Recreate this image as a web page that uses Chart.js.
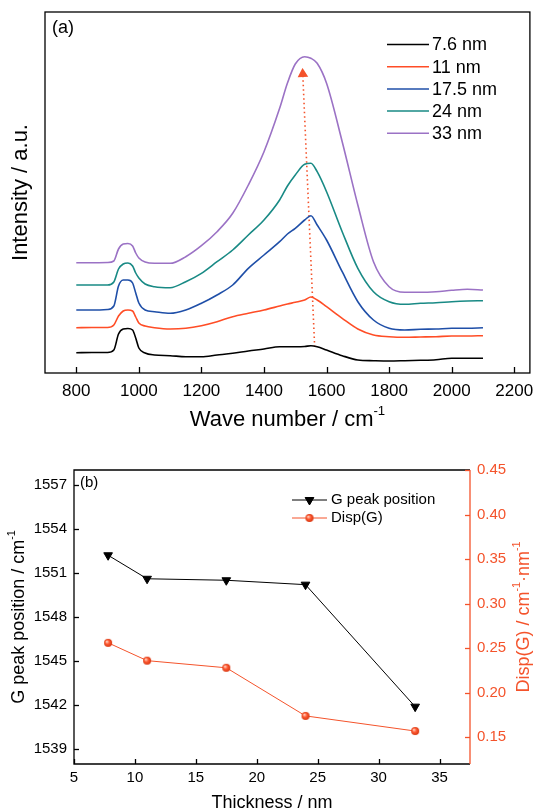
<!DOCTYPE html>
<html>
<head>
<meta charset="utf-8">
<script src="https://cdn.jsdelivr.net/npm/chart.js@4.4.0/dist/chart.umd.min.js"></script>
<style>
html, body { margin: 0; padding: 0; background: #fff; }
#wrap { position: relative; width: 536px; height: 811px; }
#spectra { position: absolute; left: 0; top: 0; }
#gpeak { position: absolute; left: 0; top: 440px; }
</style>
</head>
<body>
<div id="wrap">
  <canvas id="spectra" width="536" height="440"></canvas>
  <canvas id="gpeak" width="536" height="371"></canvas>
</div>
<script>
const FONT = '"Liberation Sans", Arial, sans-serif';
Chart.defaults.font.family = FONT;
Chart.defaults.color = '#000';

// ---- (a) Raman spectra, intensity in arbitrary units ----
const waveNumbers = [800, 850, 900, 920, 935, 950, 965, 980, 990, 1000, 1020, 1050, 1100, 1150, 1200, 1250, 1300, 1350, 1400, 1450, 1475, 1500, 1530, 1550, 1570, 1600, 1650, 1700, 1750, 1800, 1850, 1900, 1950, 2000, 2050, 2100];
const int76  = [20.3, 20.5, 20.5, 23, 39, 44, 44.5, 43, 35, 25, 20, 18, 17.3, 16.3, 16.3, 18, 19.7, 22, 24, 26.3, 26.3, 26.3, 26.5, 27.3, 26.3, 23, 17.3, 13, 12.3, 12, 12.3, 12.7, 13.3, 14.7, 14.7, 14.7];
const int11  = [45.3, 45.5, 45.5, 48, 57, 62, 63, 62, 56, 50, 47, 45.3, 44, 44.7, 47.3, 51.3, 56.3, 59.7, 63, 67, 69, 70.7, 73, 76, 73, 66.3, 54.7, 44, 38, 36.3, 35.7, 36, 36.3, 37, 37, 37.3];
const int175 = [63, 63, 63.5, 67, 87, 93, 93, 90, 80, 70, 63, 61.3, 59.7, 63, 69.7, 78, 88, 104.7, 118, 131.3, 139, 144.7, 153, 157.3, 148, 133, 101.3, 71.3, 53, 44.7, 43, 43.7, 44, 44.7, 44.7, 45.3];
const int24  = [88, 88, 88, 91, 104, 109, 110, 107, 100, 95, 89, 86.3, 85.3, 91.3, 99.7, 111.3, 123, 138, 153, 173, 187, 198, 208.7, 209.7, 201.3, 181.3, 141.3, 104.7, 81.3, 71.3, 68.7, 69.7, 70.3, 71.3, 72, 72.3];
const int33  = [110.3, 110.3, 110.5, 112, 124, 129, 129.5, 127, 120, 115, 111, 109.7, 109.7, 116.3, 127.3, 141.3, 159.7, 188, 221.3, 264.7, 290, 309, 316.3, 314.7, 309.7, 289.7, 231.3, 168, 111.3, 86.3, 80.7, 80.7, 81.3, 82.7, 83.7, 83];
const spectraLabels = ['7.6 nm', '11 nm', '17.5 nm', '24 nm', '33 nm'];
const spectraColors = ['#000000', '#ff4d26', '#1f4fa8', '#198a85', '#9b72c5'];
const waveTicks = [800, 1000, 1200, 1400, 1600, 1800, 2000, 2200];
const arrowX = [1562, 1524];
const arrowY = [26, 299];

// ---- (b) G peak position and dispersion vs thickness ----
const thickness = [7.8, 11, 17.5, 24, 33];
const gPeak = [1552.2, 1550.6, 1550.5, 1550.2, 1541.9];
const dispG = [0.256, 0.236, 0.228, 0.174, 0.157];
const thickTicks = [5, 10, 15, 20, 25, 30, 35];
const peakTicks = [1539, 1542, 1545, 1548, 1551, 1554, 1557];
const dispTicks = [0.15, 0.20, 0.25, 0.30, 0.35, 0.40, 0.45];

const ORANGE = '#f4532b';

function toPoints(xs, ys) {
  return xs.map((x, i) => ({ x: x, y: ys[i] }));
}

function richText(ctx, parts, x, y, size, rotate, color) {
  ctx.save();
  ctx.translate(x, y);
  if (rotate) ctx.rotate(-Math.PI / 2);
  ctx.fillStyle = color;
  ctx.textBaseline = 'alphabetic';
  ctx.textAlign = 'left';
  let w = 0;
  parts.forEach(p => {
    ctx.font = (p.sup ? size * 0.6 : size) + 'px ' + FONT;
    w += ctx.measureText(p.t).width;
  });
  let cx = -w / 2;
  parts.forEach(p => {
    ctx.font = (p.sup ? size * 0.6 : size) + 'px ' + FONT;
    ctx.fillText(p.t, cx, p.sup ? -size * 0.5 : 0);
    cx += ctx.measureText(p.t).width;
  });
  ctx.restore();
}

function tickLine(ctx, x1, y1, x2, y2) {
  ctx.beginPath();
  ctx.moveTo(x1, y1);
  ctx.lineTo(x2, y2);
  ctx.stroke();
}

const spectraDecor = {
  id: 'spectraDecor',
  afterDraw(chart) {
    const { ctx, chartArea: a, scales: { x } } = chart;
    ctx.save();
    ctx.strokeStyle = '#000';
    ctx.lineWidth = 1.3;
    ctx.strokeRect(a.left, a.top, a.right - a.left, a.bottom - a.top);
    waveTicks.forEach(v => {
      const px = Math.round(x.getPixelForValue(v)) + 0.5;
      tickLine(ctx, px, a.bottom, px, a.bottom - 6);
    });

    ctx.font = '18px ' + FONT;
    ctx.fillStyle = '#000';
    ctx.textBaseline = 'middle';
    ctx.fillText('(a)', 52, 28);

    // legend
    spectraLabels.forEach((lab, i) => {
      const y = 44.5 + i * 22.2;
      ctx.strokeStyle = spectraColors[i];
      ctx.lineWidth = 1.5;
      tickLine(ctx, 387, y, 429, y);
      ctx.font = '18px ' + FONT;
      ctx.fillStyle = '#000';
      ctx.fillText(lab, 432, y + 1);
    });

    richText(ctx, [{ t: 'Wave number / cm' }, { t: '-1', sup: true }], (a.left + a.right) / 2, 426, 22, false, '#000');
    richText(ctx, [{ t: 'Intensity / a.u.' }], 27, (a.top + a.bottom) / 2, 22, true, '#000');
    ctx.restore();
  }
};

const spectraSets = [int76, int11, int175, int24, int33].map((arr, i) => ({
  label: spectraLabels[i],
  data: toPoints(waveNumbers, arr),
  borderColor: spectraColors[i],
  borderWidth: 1.6,
  pointRadius: 0,
  cubicInterpolationMode: 'monotone',
  fill: false
}));
spectraSets.push({
  label: 'shift',
  data: toPoints(arrowX, arrowY),
  borderColor: ORANGE,
  backgroundColor: ORANGE,
  borderWidth: 1.6,
  borderDash: [1.5, 3],
  pointRadius: [0, 4.5],
  pointStyle: 'triangle',
  rotation: -3,
  tension: 0
});

new Chart(document.getElementById('spectra'), {
  type: 'line',
  data: { datasets: spectraSets },
  options: {
    responsive: false,
    animation: false,
    layout: { padding: { top: 12, right: 6, left: 0, bottom: 0 } },
    plugins: { legend: { display: false }, tooltip: { enabled: false } },
    scales: {
      x: {
        type: 'linear', min: 700, max: 2250,
        afterBuildTicks: s => { s.ticks = waveTicks.map(v => ({ value: v })); },
        afterFit: s => { s.height = 67; s.paddingLeft = 0; s.paddingRight = 0; },
        grid: { display: false, drawTicks: false },
        border: { display: false },
        ticks: { font: { size: 17 }, color: '#000', padding: 8, maxRotation: 0, autoSkip: false, callback: v => String(v) }
      },
      y: {
        min: 0, max: 361,
        afterFit: s => { s.width = 45; },
        grid: { display: false, drawTicks: false },
        border: { display: false },
        ticks: { display: false }
      }
    }
  },
  plugins: [spectraDecor]
});

// sphere marker for Disp(G)
function makeBall(r) {
  const c = document.createElement('canvas');
  c.width = c.height = 2 * r + 2;
  const g = c.getContext('2d');
  const grad = g.createRadialGradient(r + 1 - r * 0.35, r + 1 - r * 0.35, r * 0.1, r + 1, r + 1, r);
  grad.addColorStop(0, '#ffd0bf');
  grad.addColorStop(0.45, '#ff5a33');
  grad.addColorStop(1, '#d8360f');
  g.fillStyle = grad;
  g.beginPath();
  g.arc(r + 1, r + 1, r, 0, Math.PI * 2);
  g.fill();
  return c;
}
const ball = makeBall(4);

const gpeakDecor = {
  id: 'gpeakDecor',
  afterDraw(chart) {
    const { ctx, chartArea: a, scales: { x, y, y1 } } = chart;
    ctx.save();
    ctx.lineWidth = 1.3;
    ctx.strokeStyle = '#000';
    ctx.beginPath();
    ctx.moveTo(a.right, a.top);
    ctx.lineTo(a.left, a.top);
    ctx.lineTo(a.left, a.bottom);
    ctx.lineTo(a.right, a.bottom);
    ctx.stroke();
    thickTicks.forEach(v => {
      const px = Math.round(x.getPixelForValue(v)) + 0.5;
      tickLine(ctx, px, a.bottom, px, a.bottom - 5);
    });
    peakTicks.forEach(v => {
      const py = Math.round(y.getPixelForValue(v)) + 0.5;
      tickLine(ctx, a.left, py, a.left + 5, py);
    });
    ctx.strokeStyle = ORANGE;
    tickLine(ctx, a.right, a.top, a.right, a.bottom);
    dispTicks.forEach(v => {
      const py = Math.round(y1.getPixelForValue(v)) + 0.5;
      tickLine(ctx, a.right, py, a.right - 5, py);
    });

    ctx.fillStyle = '#000';
    ctx.font = '15px ' + FONT;
    ctx.textBaseline = 'middle';
    ctx.fillText('(b)', 80, 42.5);

    // legend
    ctx.lineWidth = 1;
    ctx.strokeStyle = '#000';
    tickLine(ctx, 292, 60, 327, 60);
    Chart.helpers.drawPoint(ctx, { pointStyle: 'triangle', rotation: 180, radius: 5, borderWidth: 1 }, 309.5, 60);
    ctx.fill();
    ctx.strokeStyle = ORANGE;
    tickLine(ctx, 292, 78, 327, 78);
    ctx.drawImage(ball, 309.5 - ball.width / 2, 78 - ball.height / 2);
    ctx.fillStyle = '#000';
    ctx.fillText('G peak position', 331, 60);
    ctx.fillText('Disp(G)', 331, 78);

    richText(ctx, [{ t: 'Thickness / nm' }], (a.left + a.right) / 2, 368, 18, false, '#000');
    richText(ctx, [{ t: 'G peak position / cm' }, { t: '-1', sup: true }], 24, (a.top + a.bottom) / 2, 18, true, '#000');
    richText(ctx, [{ t: 'Disp(G) / cm' }, { t: '-1', sup: true }, { t: '\u00b7nm' }, { t: '-1', sup: true }], 529, (a.top + a.bottom) / 2, 18, true, ORANGE);
    ctx.restore();
  }
};

new Chart(document.getElementById('gpeak'), {
  type: 'line',
  data: {
    datasets: [
      {
        label: 'G peak position',
        data: toPoints(thickness, gPeak),
        yAxisID: 'y',
        borderColor: '#000',
        backgroundColor: '#000',
        borderWidth: 1,
        pointStyle: 'triangle',
        rotation: 180,
        pointRadius: 5,
        tension: 0
      },
      {
        label: 'Disp(G)',
        data: toPoints(thickness, dispG),
        yAxisID: 'y1',
        borderColor: ORANGE,
        backgroundColor: ORANGE,
        borderWidth: 1,
        pointStyle: ball,
        pointRadius: 4,
        tension: 0
      }
    ]
  },
  options: {
    responsive: false,
    animation: false,
    layout: { padding: { top: 30, right: 0, left: 0, bottom: 0 } },
    plugins: { legend: { display: false }, tooltip: { enabled: false } },
    scales: {
      x: {
        type: 'linear', min: 5, max: 37.5,
        afterBuildTicks: s => { s.ticks = thickTicks.map(v => ({ value: v })); },
        afterFit: s => { s.height = 47; s.paddingLeft = 0; s.paddingRight = 0; },
        grid: { display: false, drawTicks: false },
        border: { display: false },
        ticks: { font: { size: 15 }, color: '#000', padding: 5, maxRotation: 0, autoSkip: false, callback: v => String(v) }
      },
      y: {
        position: 'left',
        min: 1538, max: 1558,
        afterBuildTicks: s => { s.ticks = peakTicks.map(v => ({ value: v })); },
        afterFit: s => { s.width = 74; },
        grid: { display: false, drawTicks: false },
        border: { display: false },
        ticks: { font: { size: 15 }, color: '#000', padding: 7, autoSkip: false, callback: v => String(v) }
      },
      y1: {
        position: 'right',
        min: 0.12, max: 0.45,
        afterBuildTicks: s => { s.ticks = dispTicks.map(v => ({ value: v })); },
        afterFit: s => { s.width = 66; },
        grid: { display: false, drawTicks: false },
        border: { display: false },
        ticks: { font: { size: 15 }, color: ORANGE, padding: 7, autoSkip: false, callback: v => Number(v).toFixed(2) }
      }
    }
  },
  plugins: [gpeakDecor]
});
</script>
</body>
</html>
